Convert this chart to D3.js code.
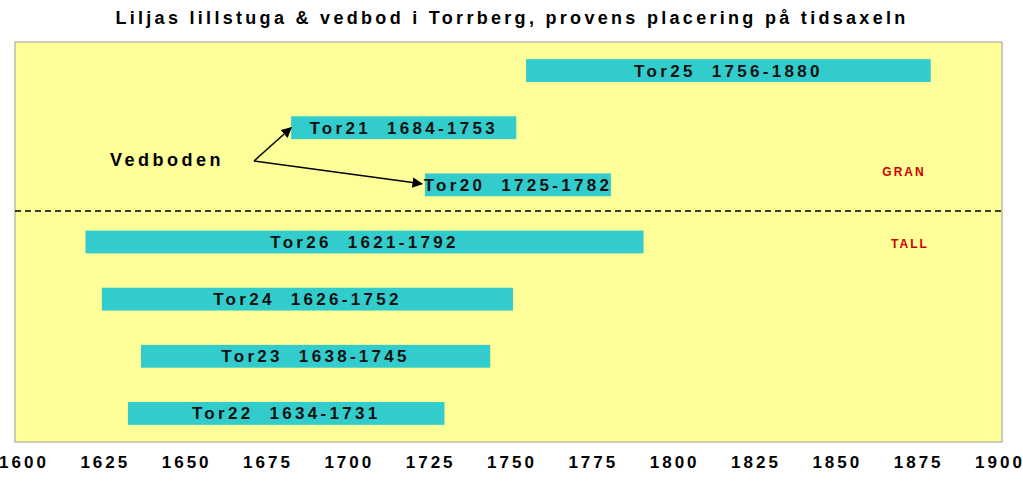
<!DOCTYPE html><html><head><meta charset="utf-8">
<script src="https://cdn.jsdelivr.net/npm/d3@7"></script>
<style>body{margin:0;background:#fff}svg{display:block}text{font-family:Arial,"Liberation Sans",sans-serif}</style></head><body>
<svg id="c" width="1023" height="489"></svg>
<script>
const names=["Tor25","Tor21","Tor20","Tor26","Tor24","Tor23","Tor22"];
const starts=[1756,1684,1725,1621,1626,1638,1634];
const ends=[1880,1753,1782,1792,1752,1745,1731];
const ticks=[1600,1625,1650,1675,1700,1725,1750,1775,1800,1825,1850,1875,1900];
const svg=d3.select("#c");
const x=d3.scaleLinear().domain([1600,1900]).range([17,996]);
const xt=d3.scaleLinear().domain([1600,1900]).range([24,1000]);
const y=d3.scaleBand().domain(names).range([42,442]).paddingInner(0.6).paddingOuter(0.3);
svg.append("text").attr("x",512).attr("y",24).attr("text-anchor","middle").attr("font-size",18).attr("font-weight","bold").attr("letter-spacing",3.3).text("Liljas lillstuga & vedbod i Torrberg, provens placering på tidsaxeln");
svg.append("rect").attr("x",15).attr("y",42).attr("width",987).attr("height",400).attr("fill","#ffff99").attr("stroke","#999").attr("stroke-width",1);
svg.append("line").attr("x1",15).attr("x2",1002).attr("y1",211).attr("y2",211).attr("stroke","#000").attr("stroke-width",1.3).attr("stroke-dasharray","6,4");
const g=svg.selectAll("g.b").data(names).enter().append("g");
g.append("rect").attr("x",(d,i)=>x(starts[i])).attr("width",(d,i)=>x(ends[i])-x(starts[i])).attr("y",d=>y(d)).attr("height",y.bandwidth()).attr("fill","#33cccc");
g.append("text").attr("x",(d,i)=>(x(starts[i])+x(ends[i]))/2).attr("y",d=>y(d)+y.bandwidth()/2+6).attr("text-anchor","middle").attr("font-size",17).attr("font-weight","bold").attr("letter-spacing",3.3).attr("fill","#111").style("white-space","pre").text((d,i)=>d+"  "+starts[i]+"-"+ends[i]);
svg.selectAll("text.t").data(ticks).enter().append("text").attr("x",d=>xt(d)).attr("y",468).attr("text-anchor","middle").attr("font-size",17).attr("font-weight","bold").attr("letter-spacing",3).text(d=>d);
svg.append("defs").append("marker").attr("id","ar").attr("viewBox","0 0 10 10").attr("refX",9).attr("refY",5).attr("markerWidth",7).attr("markerHeight",7).attr("orient","auto").append("path").attr("d","M0,0L10,5L0,10z");
svg.append("text").attr("x",110).attr("y",166).attr("font-size",18).attr("font-weight","bold").attr("letter-spacing",3.5).text("Vedboden");
const ox=254,oy=161;
svg.append("line").attr("x1",ox).attr("y1",oy).attr("x2",x(1684)).attr("y2",y("Tor21")+y.bandwidth()/2).attr("stroke","#000").attr("stroke-width",1.5).attr("marker-end","url(#ar)");
svg.append("line").attr("x1",ox).attr("y1",oy).attr("x2",x(1725)-3).attr("y2",y("Tor20")+y.bandwidth()/2-1).attr("stroke","#000").attr("stroke-width",1.5).attr("marker-end","url(#ar)");
svg.append("text").attr("x",904).attr("y",176).attr("text-anchor","middle").attr("font-size",12).attr("font-weight","bold").attr("letter-spacing",2).attr("fill","#cc0000").text("GRAN");
svg.append("text").attr("x",910).attr("y",248).attr("text-anchor","middle").attr("font-size",12).attr("font-weight","bold").attr("letter-spacing",2).attr("fill","#cc0000").text("TALL");
</script></body></html>
